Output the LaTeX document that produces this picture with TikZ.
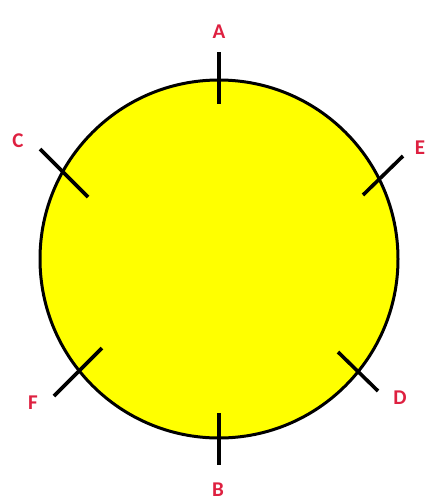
\documentclass[tikz,border=0pt]{standalone}
\usepackage{fontspec}
\newfontfamily\lblfont{Carlito}
\definecolor{sunyellow}{RGB}{255,255,0}
\definecolor{lblred}{RGB}{222,32,64}
\tikzset{
  disc/.style={circle,draw=black,line width=3pt,fill=sunyellow,minimum size=358pt,inner sep=0pt,outer sep=0pt},
  tickline/.style={draw=black,line width=3.6pt},
  lbl/.style={text=lblred,font=\lblfont\bfseries\fontsize{21}{21}\selectfont,inner sep=0pt}
}
\begin{document}
\begin{tikzpicture}[x=1pt,y=-1pt]
\useasboundingbox (0,0) rectangle (427,501);
\node[disc] (c) at (219,259) {};
% tick end points
\coordinate (a1) at (219,52);  \coordinate (a2) at (219,104);
\coordinate (b1) at (219,413); \coordinate (b2) at (219,465);
\coordinate (c1) at (40,149);  \coordinate (c2) at (88,197);
\coordinate (e1) at (403,156); \coordinate (e2) at (363,195);
\coordinate (f1) at (102,348); \coordinate (f2) at (54,396);
\coordinate (d1) at (338,352); \coordinate (d2) at (378,391);
\draw[tickline] (a1) -- (a2);
\draw[tickline] (b1) -- (b2);
\draw[tickline] (c1) -- (c2);
\draw[tickline] (e1) -- (e2);
\draw[tickline] (f1) -- (f2);
\draw[tickline] (d1) -- (d2);
% labels
\node[lbl] (la) at (219,32) {A};
\node[lbl] (lb) at (218,490) {B};
\node[lbl] (lc) at (18,141) {C};
\node[lbl] (le) at (420,148) {E};
\node[lbl] (lf) at (33,403) {F};
\node[lbl] (ld) at (400,398) {D};
\end{tikzpicture}
\end{document}
